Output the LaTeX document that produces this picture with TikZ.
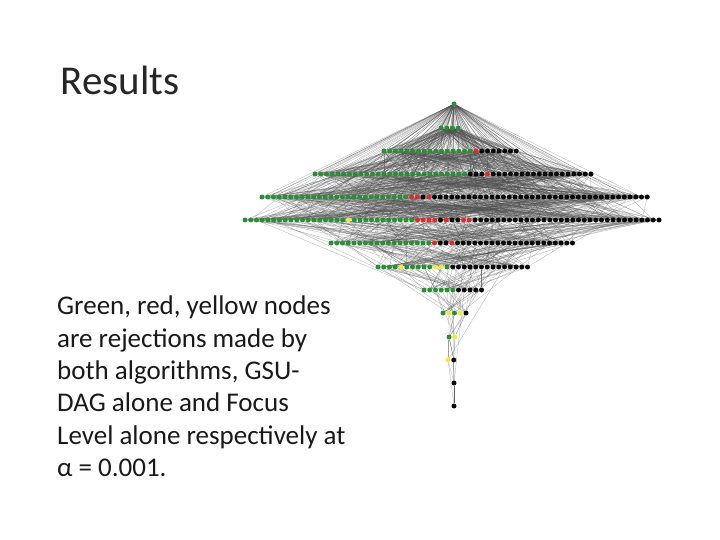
\documentclass[tikz,border=0pt]{standalone}
\usepackage{fontspec}
\setmainfont{Carlito}
\usetikzlibrary{backgrounds}
\definecolor{gg}{RGB}{45,140,55}
\definecolor{rr}{RGB}{215,45,45}
\definecolor{yy}{RGB}{238,232,70}
\definecolor{kk}{RGB}{10,10,10}
\newcount\myidx
\newcommand\myrow[4]{% row id, y, x start, segments
  \global\myidx=0
  \foreach \c/\n in {#4}{%
    \foreach \j in {1,...,\n}{%
      \global\advance\myidx by 1
      \pgfmathtruncatemacro\k{\myidx}%
      \node[dot,fill=\c] (r#1-\k) at ({#3+(\k-1)*5.75},#2) {};
    }%
  }%
  \expandafter\xdef\csname rowlen#1\endcsname{\the\myidx}%
}
\begin{document}
\begin{tikzpicture}[x=1pt,y=-1pt,
  dot/.style={circle,inner sep=0pt,minimum size=5pt,draw=none},
  edge/.style={draw=black!70,line width=0.25pt,opacity=0.5},
  title/.style={anchor=base west,font=\fontsize{41}{44}\selectfont,text=black!85},
  body/.style={anchor=north west,align=left,font=\fontsize{27}{32.3}\selectfont,text=black!90,inner sep=0pt}]
\useasboundingbox (0,0) rectangle (720,540);
\node[title] (t) at (57,95) {Results};
\node[body] (b) at (57,296) {Green, red, yellow nodes\\are rejections made by\\both algorithms, GSU-\\DAG alone and Focus\\Level alone respectively at\\α = 0.001.};
\myrow{0}{104}{454}{gg/1}
\myrow{1}{128}{441}{gg/4}
\myrow{2}{151}{384}{gg/16,rr/1,kk/7}
\myrow{3}{174}{315}{gg/27,kk/3,rr/1,kk/18}
\myrow{4}{197}{262}{gg/26,rr/2,kk/1,rr/1,kk/38}
\myrow{5}{220}{245}{gg/18,yy/1,gg/11,rr/4,kk/1,rr/1,kk/2,rr/2,kk/33}
\myrow{6}{243}{331}{gg/18,rr/1,kk/2,rr/1,kk/21}
\myrow{7}{267}{378}{gg/4,yy/1,gg/5,yy/2,gg/1,kk/14}
\myrow{8}{290}{424}{gg/6,kk/5}
\myrow{9}{313}{443}{gg/1,yy/1,gg/1,yy/1,kk/1}
\myrow{10}{337}{449}{gg/1,yy/1}
\myrow{11}{360}{448}{yy/1,kk/1}
\myrow{12}{383}{454}{kk/1}
\myrow{13}{406}{454}{kk/1}
\begin{pgfonlayer}{background}
\pgfmathsetseed{7}
\foreach \r in {1,...,13}{
  \pgfmathtruncatemacro\p{\r-1}
  \pgfmathtruncatemacro\lo{max(0,\r-4)}
  \edef\n{\csname rowlen\r\endcsname}
  \foreach \i in {1,...,\n}{
    \foreach \e in {1,2,3}{
      \edef\m{\csname rowlen\p\endcsname}
      \pgfmathrandominteger{\a}{1}{\m}
      \draw[edge] (r\r-\i) -- (r\p-\a);
    }
    \foreach \e in {1,2}{
      \pgfmathrandominteger{\q}{\lo}{\p}
      \edef\m{\csname rowlen\q\endcsname}
      \pgfmathrandominteger{\a}{1}{\m}
      \draw[edge] (r\r-\i) -- (r\q-\a);
    }
  }
}
\end{pgfonlayer}
\end{tikzpicture}
\end{document}
